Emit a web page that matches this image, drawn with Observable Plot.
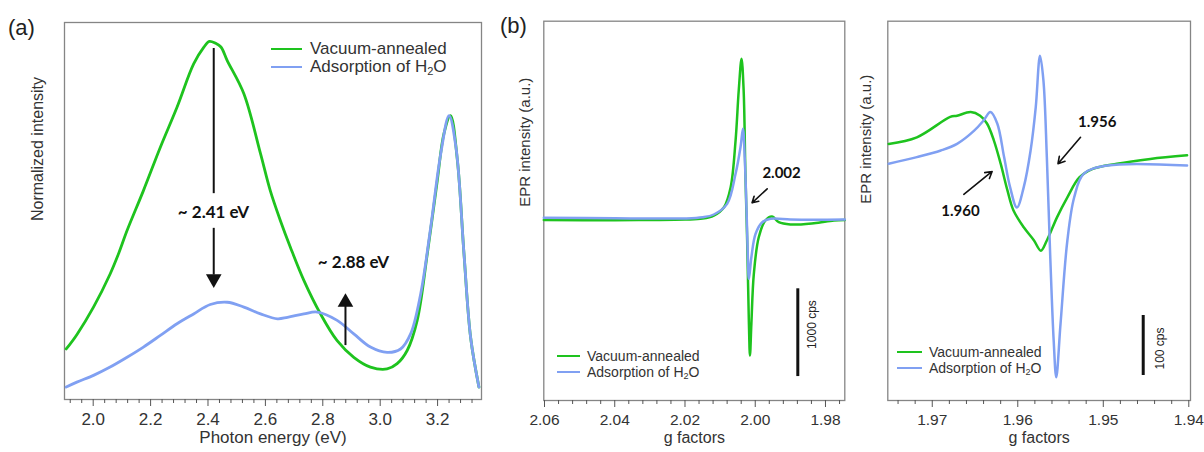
<!DOCTYPE html>
<html>
<head>
<meta charset="utf-8">
<script src="https://cdn.jsdelivr.net/npm/d3@7"></script>
<script src="https://cdn.jsdelivr.net/npm/@observablehq/plot@0.6"></script>
<style>
  body { margin: 0; background: #fff; }
  #wrap { position: relative; width: 1204px; height: 452px; overflow: hidden; background: #fff; font-family: 'Liberation Sans', Arial, sans-serif; color: #222; }
  .panel { position: absolute; top: 0; }
  .tag { position: absolute; font-size: 22px; line-height: 22px; color: #222; }
  .legrow { position: absolute; display: flex; align-items: center; white-space: nowrap; color: #333; }
  .legrow span.ln { display: inline-block; height: 2.5px; }
  sub { font-size: 65%; vertical-align: -0.25em; line-height: 0; }
</style>
</head>
<body>
<div id="wrap"></div>
<script>
// ---------- data ----------
const seriesNames = ["Vacuum-annealed", "Adsorption of H2O"];
const colors = ["#1ec31e", "#80a0f2"];

// (a) photoluminescence: [photon energy eV, normalized intensity]
const peGreen = [[1.906,0.134],[1.943,0.172],[2.001,0.245],[2.059,0.333],[2.089,0.388],[2.118,0.448],[2.175,0.554],[2.234,0.669],[2.292,0.775],[2.350,0.890],[2.385,0.934],[2.405,0.950],[2.426,0.945],[2.445,0.935],[2.467,0.899],[2.525,0.811],[2.583,0.652],[2.617,0.554],[2.652,0.475],[2.687,0.404],[2.734,0.316],[2.792,0.227],[2.850,0.156],[2.908,0.112],[2.966,0.086],[3.024,0.081],[3.059,0.095],[3.094,0.130],[3.129,0.210],[3.164,0.386],[3.199,0.581],[3.222,0.705],[3.245,0.753],[3.269,0.634],[3.292,0.386],[3.315,0.165],[3.344,0.033]];
const peBlue = [[1.906,0.033],[1.943,0.046],[2.001,0.064],[2.059,0.086],[2.118,0.112],[2.175,0.139],[2.234,0.170],[2.292,0.201],[2.350,0.227],[2.408,0.252],[2.467,0.258],[2.525,0.245],[2.583,0.227],[2.642,0.214],[2.677,0.218],[2.734,0.227],[2.781,0.232],[2.850,0.210],[2.908,0.174],[2.966,0.139],[3.024,0.125],[3.071,0.134],[3.106,0.174],[3.141,0.280],[3.176,0.457],[3.211,0.652],[3.240,0.753],[3.264,0.669],[3.292,0.386],[3.315,0.165],[3.344,0.033]];
const peTicks = [2.0, 2.2, 2.4, 2.6, 2.8, 3.0, 3.2];

// (b) EPR wide scan: [g factor, cps]
const eprGreen = [[2.0602,-5],[2.040,-8],[2.030,-5],[2.020,0],[2.015,10],[2.0118,45],[2.0089,140],[2.0070,367],[2.0056,897],[2.0047,1466],[2.0039,1826],[2.0033,1466],[2.0028,519],[2.0023,-239],[2.0018,-1185],[2.0015,-1545],[2.0011,-1185],[2.0004,-617],[1.9990,-201],[1.9971,-11],[1.9952,34],[1.9933,-31],[1.9900,-57],[1.9833,-42],[1.9776,-11],[1.9745,-5]];
const eprBlue = [[2.0602,20],[2.040,15],[2.020,12],[2.015,25],[2.0118,57],[2.0080,178],[2.0056,519],[2.0042,821],[2.0035,1030],[2.0030,708],[2.0025,140],[2.0021,-428],[2.0018,-674],[2.0011,-428],[1.9999,-162],[1.9980,-31],[1.9956,8],[1.9900,0],[1.9833,-3],[1.9745,0]];
const eprTicks = [2.06, 2.04, 2.02, 2.00, 1.98];

// (b) EPR narrow scan: [g factor, cps]
const zoomGreen = [[1.9751,36],[1.9718,47],[1.9679,81],[1.9671,83],[1.9655,89],[1.9644,83],[1.9636,70],[1.9628,42],[1.9620,3],[1.9612,-42],[1.9605,-75],[1.9593,-103],[1.9581,-125],[1.9573,-142],[1.9566,-125],[1.9554,-86],[1.9542,-53],[1.9528,-20],[1.9513,-6],[1.9484,3],[1.9445,11],[1.9402,17]];
const zoomBlue = [[1.9751,3],[1.9718,14],[1.9690,25],[1.9671,36],[1.9651,58],[1.9640,75],[1.9632,89],[1.9624,70],[1.9616,14],[1.9609,-36],[1.9601,-70],[1.9593,-36],[1.9585,25],[1.9579,97],[1.9574,183],[1.9570,142],[1.9566,14],[1.9562,-153],[1.9558,-292],[1.9555,-353],[1.9550,-264],[1.9542,-125],[1.9534,-53],[1.9523,-14],[1.9495,0],[1.9402,0]];
const zoomTicks = [1.97, 1.96, 1.95, 1.94];

// annotations
const peLabels = [{x: 2.419, y: 0.496, t: "~ 2.41 eV"}, {x: 2.907, y: 0.364, t: "~ 2.88 eV"}];
const eprLabels = [{x: 1.9925, y: 526, t: "2.002"}];
const zoomLabels = [{x: 1.9507, y: 72, t: "1.956"}, {x: 1.9667, y: -76, t: "1.960"}];

// ---------- helpers ----------
const sans = "'Liberation Sans', Arial, sans-serif";
const bold = "Lato, 'Open Sans', sans-serif";
const X = d => d[0], Y = d => d[1];

function lines(g, b, w) {
  return [
    Plot.line(g, {x: X, y: Y, stroke: colors[0], strokeWidth: w, curve: "catmull-rom"}),
    Plot.line(b, {x: X, y: Y, stroke: colors[1], strokeWidth: w, curve: "catmull-rom"})
  ];
}
function axes(major, minor, fmt, fs) {
  return [
    Plot.axisX(minor, {tickSize: 4, tickFormat: () => "", label: null, stroke: "#555"}),
    Plot.axisX(major, {tickSize: 7, tickPadding: 6, tickFormat: d3.format(fmt), fontSize: fs, label: null, stroke: "#555", fill: "#333"})
  ];
}
function axisLabels(xl, yl, fs, ydx, ydy, xdy) {
  return [
    Plot.text([yl], {text: d => d, frameAnchor: "left", rotate: -90, dx: ydx, dy: ydy, fontSize: fs, fill: "#333"}),
    Plot.text([xl], {text: d => d, frameAnchor: "bottom", dy: xdy, fontSize: fs + 1, fill: "#333"})
  ];
}

const wrap = document.getElementById("wrap");
function place(svg, left) {
  const d = document.createElement("div");
  d.className = "panel"; d.style.left = left + "px";
  d.appendChild(svg); wrap.appendChild(d);
}

// ---------- panel (a) ----------
const minorA = d3.range(1.92, 3.35, 0.04).filter(v => peTicks.every(t => Math.abs(t - v) > 1e-6));
place(Plot.plot({
  width: 500, height: 452,
  marginLeft: 64, marginRight: 19, marginTop: 22, marginBottom: 53,
  style: {fontFamily: sans, background: "transparent"},
  x: {domain: [1.9, 3.353]},
  y: {domain: [0, 1], axis: null},
  marks: [
    Plot.frame({stroke: "#858585", strokeWidth: 1.3}),
    ...axes(peTicks, minorA, ".1f", 17),
    ...axisLabels("Photon energy (eV)", "Normalized intensity", 16, -27, 10, 43),
    ...lines(peGreen, peBlue, 2.8),
    Plot.ruleX([2.42], {y1: 0.931, y2: 0.546, stroke: "#111", strokeWidth: 2}),
    Plot.ruleX([2.42], {y1: 0.454, y2: 0.33, stroke: "#111", strokeWidth: 2}),
    Plot.ruleX([2.879], {y1: 0.143, y2: 0.25, stroke: "#111", strokeWidth: 2}),
    Plot.dot([[2.42, 0.320, 180], [2.879, 0.258, 0]], {x: X, y: Y, rotate: d => d[2], symbol: "triangle", r: 5.8, fill: "#111", stroke: "none"}),
    Plot.text(peLabels, {x: "x", y: "y", text: "t", fontFamily: bold, fontWeight: "bold", fontSize: 17, fill: "#111"})
  ]
}), 0);

// ---------- panel (b) left ----------
const minorB = d3.range(0, 22).map(i => +(2.06 - i * 0.004).toFixed(3)).filter(v => eprTicks.every(t => Math.abs(t - v) > 1e-6));
place(Plot.plot({
  width: 355, height: 452,
  marginLeft: 43.3, marginRight: 10.7, marginTop: 20.7, marginBottom: 52,
  style: {fontFamily: sans, background: "transparent"},
  x: {domain: [2.0602, 1.9745]},
  y: {domain: [-2056, 2253], axis: null},
  marks: [
    Plot.frame({stroke: "#858585", strokeWidth: 1.3}),
    ...axes(eprTicks, minorB, ".2f", 15.5),
    ...axisLabels("g factors", "EPR intensity (a.u.)", 15, -19, -4, 42),
    ...lines(eprGreen, eprBlue, 2.5),
    Plot.ruleX([1.98788], {y1: -1784, y2: -787, stroke: "#111", strokeWidth: 3}),
    Plot.text(["1000 cps"], {x: 1.9838, y: -1193, text: d => d, rotate: -90, fontSize: 12, fill: "#222"}),
    Plot.arrow([[1.9966, 349, 2.0009, 190]], {x1: d => d[0], y1: d => d[1], x2: d => d[2], y2: d => d[3], stroke: "#111", strokeWidth: 1.6, headLength: 7}),
    Plot.text(eprLabels, {x: "x", y: "y", text: "t", fontFamily: bold, fontWeight: "bold", fontSize: 15, fill: "#111"})
  ]
}), 500);

// ---------- panel (b) right ----------
const minorC = d3.range(0, 18).map(i => +(1.974 - i * 0.002).toFixed(3)).filter(v => zoomTicks.every(t => Math.abs(t - v) > 1e-6));
place(Plot.plot({
  width: 349, height: 452,
  marginLeft: 32.3, marginRight: 14, marginTop: 20.7, marginBottom: 52,
  style: {fontFamily: sans, background: "transparent"},
  x: {domain: [1.9752, 1.9398]},
  y: {domain: [-391.7, 240.5], axis: null},
  marks: [
    Plot.frame({stroke: "#858585", strokeWidth: 1.3}),
    ...axes(zoomTicks, minorC, ".2f", 15.5),
    ...axisLabels("g factors", "EPR intensity (a.u.)", 15, -22, -7, 42),
    ...lines(zoomGreen, zoomBlue, 2.5),
    Plot.ruleX([1.94533], {y1: -350, y2: -250, stroke: "#111", strokeWidth: 3}),
    Plot.text(["100 cps"], {x: 1.94331, y: -305, text: d => d, rotate: -90, fontSize: 12, fill: "#222"}),
    Plot.arrow([[1.95266, 47, 1.9553, 3], [1.96631, -48, 1.9630, -10]], {x1: d => d[0], y1: d => d[1], x2: d => d[2], y2: d => d[3], stroke: "#111", strokeWidth: 1.6, headLength: 7}),
    Plot.text(zoomLabels, {x: "x", y: "y", text: "t", fontFamily: bold, fontWeight: "bold", fontSize: 15, fill: "#111"})
  ]
}), 855);

// ---------- tags & legends ----------
function tag(txt, left, top) {
  const d = document.createElement("div");
  d.className = "tag"; d.textContent = txt;
  d.style.left = left + "px"; d.style.top = top + "px";
  wrap.appendChild(d);
}
tag("(a)", 8, 17);
tag("(b)", 500, 15);

function legend(lineX, ys, lineW, textX, fs) {
  const labels = ["Vacuum-annealed", "Adsorption of H<sub>2</sub>O"];
  ys.forEach((y, i) => {
    const row = document.createElement("div");
    row.className = "legrow";
    row.style.left = lineX + "px";
    row.style.top = (y - fs * 0.6) + "px";
    row.style.height = (fs * 1.2) + "px";
    row.style.fontSize = fs + "px";
    row.innerHTML = `<span class="ln" style="width:${lineW}px;background:${colors[i]};margin-right:${textX - lineX - lineW}px"></span><span>${labels[i]}</span>`;
    wrap.appendChild(row);
  });
}
legend(271, [49, 67], 31, 310, 17);
legend(557, [356, 372], 23, 587, 14);
legend(897, [352, 368], 25, 929, 14);
</script>
</body>
</html>
